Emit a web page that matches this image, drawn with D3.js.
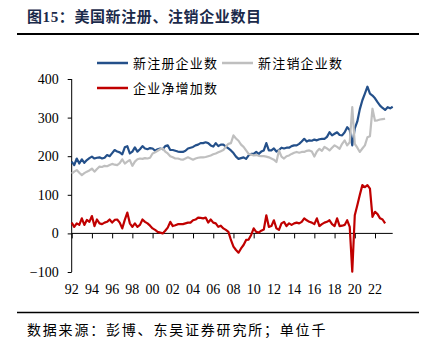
<!DOCTYPE html>
<html><head><meta charset="utf-8">
<script src="https://cdn.jsdelivr.net/npm/d3@7"></script>
<style>
html,body{margin:0;padding:0;background:#fff;}
svg{display:block;}
</style></head>
<body>
<svg id="c" width="428" height="348"></svg>
<script>
// Quarterly data starting 1992Q1 (unit: thousand)
const startYear = 1992;
const newRegistered = [
186,177,194,181, 192,183,190,195, 199,194,196,197, 194,196,203,200,
208,216,212,210, 205,223,226,207, 212,223,212,218, 226,220,218,221,
220,214,218,220, 218,226,228,216, 216,214,212,211, 211,214,220,222,
224,228,230,234, 234,236,234,228, 225,234,226,230, 230,225,220,215,
208,199,193,195, 197,193,202,206, 206,211,206,212, 215,234,215,215,
220,212,216,222, 220,222,222,226, 228,228,232,238, 245,238,241,240,
243,241,244,245, 245,250,262,254, 258,262,255,254, 262,275,268,228,
272,290,322,345, 362,380,362,357, 350,340,331,325, 320,327,324,328
];
const newClosed = [
155,160,164,157, 151,156,160,163, 168,160,167,173, 172,175,174,177,
180,178,177,182, 192,181,186,190, 175,186,192,194, 193,195,194,196,
207,210,214,218, 220,212,207,200, 197,194,194,192, 191,194,197,194,
191,194,196,197, 197,198,200,202, 205,207,210,213, 216,225,232,234,
254,246,240,230, 224,215,206,204, 202,203,201,200, 200,199,197,194,
191,185,215,199, 194,200,202,206, 209,211,209,211, 211,214,215,212,
199,212,219,214, 224,220,215,222, 228,224,219,232, 241,228,236,327,
232,222,211,220, 228,249,252,323, 292,293,295,296, 297
];
const netIncrease = [
28,17,26,22, 39,22,35,30, 45,19,36,26, 24,28,30,36,
28,35,36,28, 13,35,54,26, 17,26,17,22, 36,30,26,20,
13,9,4,2, 0,7,15,30, 19,21,24,24, 24,26,28,28,
34,36,41,40, 39,41,28,36, 28,26,17,20, 13,9,4,-17,
-34,-43,-50,-39, -30,-17,-16,-4, 13,4,2,7, 10,47,17,19,
34,13,9,26, 30,19,26,22, 26,28,26,30, 39,34,30,28,
24,39,19,24, 28,30,34,24, 19,39,19,20, 22,34,17,-99,
47,73,100,125, 120,125,116,43, 56,50,39,36, 26
];
const yTicks = [-100, 0, 100, 200, 300, 400];
const xTicks = [1992,1994,1996,1998,2000,2002,2004,2006,2008,2010,2012,2014,2016,2018,2020,2022];
const seriesNames = ["新注册企业数", "新注销企业数", "企业净增加数"];
const colors = ["#24508a", "#bfbfbf", "#c00000"];
const title = "图15：美国新注册、注销企业数目";
const source = "数据来源：彭博、东吴证券研究所；单位千";

const svg = d3.select("#c");
const serif = "'Liberation Serif','Times New Roman',serif";
const cjk = "'Noto Sans CJK SC','Noto Sans',sans-serif";

// Title
svg.append("text").attr("x", 27).attr("y", 22)
  .attr("font-family", "'Liberation Serif','Noto Sans CJK SC',serif")
  .attr("font-weight", "bold").attr("font-size", 15).attr("fill", "#1b2a4a")
  .style("letter-spacing", "0.6px")
  .text(title);
svg.append("line").attr("x1", 17).attr("x2", 419).attr("y1", 34).attr("y2", 34)
  .attr("stroke", "#000").attr("stroke-width", 2);
svg.append("line").attr("x1", 17).attr("x2", 419).attr("y1", 312.5).attr("y2", 312.5)
  .attr("stroke", "#000").attr("stroke-width", 1.6);
svg.append("text").attr("x", 27).attr("y", 335)
  .attr("font-family", cjk).attr("font-size", 14).attr("fill", "#000")
  .style("letter-spacing", "1.8px")
  .text(source);

// Scales
const x = d3.scaleLinear().domain([1992, 2023.75]).range([71.7, 392.7]);
const y = d3.scaleLinear().domain([-100, 400]).range([272, 79]);
const t = i => startYear + i * 0.25;

// Y axis
const ya = svg.append("g").attr("transform", "translate(71.7,0)")
  .call(d3.axisLeft(y).tickValues(yTicks).tickSize(4).tickPadding(9).tickFormat(d3.format("d")));
ya.select(".domain").attr("stroke", "#000").attr("d", `M-0,${y(400)}V${y(-100)}`);
ya.selectAll(".tick line").attr("stroke", "#000");
ya.selectAll("text").attr("font-family", serif).attr("font-size", 14).attr("fill", "#000");

// X axis at zero
const xa = svg.append("g").attr("transform", `translate(0,${y(0)})`)
  .call(d3.axisBottom(x).tickValues(xTicks).tickSize(5).tickFormat(""));
xa.select(".domain").attr("stroke", "#000").attr("d", `M${x(1992)},0H${x(2023.75)}`);
xa.selectAll(".tick line").attr("stroke", "#000");
// X labels at bottom
svg.append("g").selectAll("text").data(xTicks).join("text")
  .attr("x", d => x(d)).attr("y", 294)
  .attr("text-anchor", "middle").attr("font-family", serif).attr("font-size", 14)
  .text(d => String(d).slice(2));

// Lines
const line = d3.line().x((d, i) => x(t(i))).y(d => y(d));
[newRegistered, newClosed, netIncrease].forEach((s, k) => {
  svg.append("path").datum(s).attr("d", line)
    .attr("fill", "none").attr("stroke", colors[k]).attr("stroke-width", 2.2)
    .attr("stroke-linejoin", "round");
});

// Legend
const legend = [
  {x: 97, y: 63, i: 0},
  {x: 222, y: 63, i: 1},
  {x: 97, y: 88, i: 2}
];
legend.forEach(l => {
  svg.append("line").attr("x1", l.x).attr("x2", l.x + 31).attr("y1", l.y).attr("y2", l.y)
    .attr("stroke", colors[l.i]).attr("stroke-width", 2.5);
  svg.append("text").attr("x", l.x + 36).attr("y", l.y + 5)
    .attr("font-family", cjk).attr("font-size", 13).style("letter-spacing", "1.2px")
    .attr("fill", "#000").text(seriesNames[l.i]);
});
</script>
</body></html>
